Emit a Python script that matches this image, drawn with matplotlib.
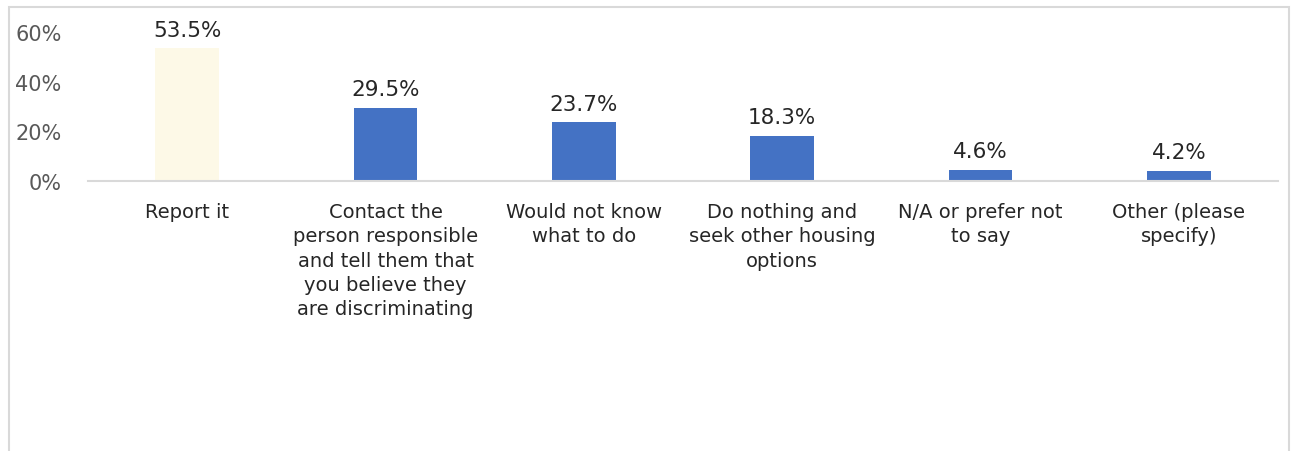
import matplotlib.pyplot as plt
from matplotlib.patches import Rectangle
from matplotlib.ticker import PercentFormatter

# survey responses: what would you do about housing discrimination
categories = [
    "Report it",
    "Contact the\nperson responsible\nand tell them that\nyou believe they\nare discriminating",
    "Would not know\nwhat to do",
    "Do nothing and\nseek other housing\noptions",
    "N/A or prefer not\nto say",
    "Other (please\nspecify)",
]
shares = [0.535, 0.295, 0.237, 0.183, 0.046, 0.042]
value_labels = ["53.5%", "29.5%", "23.7%", "18.3%", "4.6%", "4.2%"]
y_ticks = [0.0, 0.2, 0.4, 0.6]

blue = "#4472C4"
pale = "#FDF9E7"
colors = [pale] + [blue] * (len(shares) - 1)

plt.rcParams['font.family'] = ['DejaVu Sans']

fig = plt.figure(figsize=(12.94, 4.52), dpi=100)
ax = fig.add_axes([88 / 1294, 1 - 182 / 452, (1278 - 88) / 1294, (182 - 33) / 452])

x = range(len(shares))
ax.bar(x, shares, width=0.32, color=colors)

for xi, v, lab in zip(x, shares, value_labels):
    ax.annotate(lab, (xi, v), xytext=(0, 6), textcoords='offset points',
                ha='center', va='bottom', fontsize=15.5, color='#262626')

ax.set_xlim(-0.5, len(shares) - 0.5)
ax.set_ylim(0, 0.6)
ax.set_yticks(y_ticks)
ax.yaxis.set_major_formatter(PercentFormatter(1.0, decimals=0))
ax.set_xticks(list(x))
ax.set_xticklabels(categories, fontsize=14, color='#262626', linespacing=1.36)
ax.tick_params(axis='x', length=0, pad=15)
ax.tick_params(axis='y', length=0, pad=19, labelsize=15, labelcolor='#595959')

for s in ['top', 'right', 'left']:
    ax.spines[s].set_visible(False)
ax.spines['bottom'].set_color('#D9D9D9')
ax.spines['bottom'].set_linewidth(1.5)

# outer chart border (bottom edge runs off the image)
border = Rectangle((8.5 / 1294, -0.1), (1289 - 8.5) / 1294, 1.1 - 7.5 / 452,
                   transform=fig.transFigure, fill=False, edgecolor='#D9D9D9',
                   linewidth=1.5, clip_on=False)
fig.patches.append(border)

fig.savefig("out.png", dpi=100)
